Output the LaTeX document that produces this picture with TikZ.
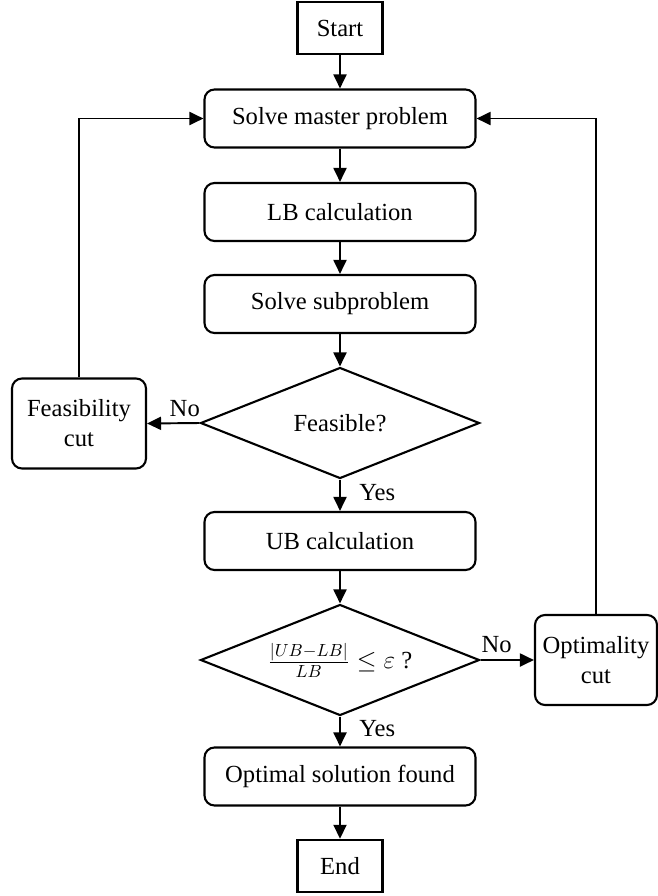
\documentclass[tikz,border=0pt]{standalone}
\usepackage{amsmath}
\usepackage{fontspec}
\setmainfont{Liberation Serif}
\usepackage{tikz}
\usetikzlibrary{shapes.geometric}
\usetikzlibrary{arrows.meta}

\tikzset{
	proc/.style={draw, rounded corners=0.2cm, line width=1.2pt, minimum width=5.42cm, minimum height=1.16cm, align=center},
	term/.style={draw, line width=1.4pt, minimum width=1.7cm, minimum height=1.04cm},
	side/.style={draw, rounded corners=0.2cm, line width=1.2pt, align=center, minimum height=1.8cm},
	dec/.style={draw, diamond, aspect=2.6, line width=1.2pt, inner sep=0pt, minimum width=5.58cm, minimum height=2.22cm},
	flow/.style={-{Triangle[length=0.28cm,width=0.26cm]}, line width=1.1pt},
}

\begin{document}
\begin{tikzpicture}[font=\fontsize{14}{17}\selectfont]
		\useasboundingbox (0,0) rectangle (13.16,-17.92);
		
		\node[term](S) at (6.8,-0.56) {Start};
		\node[proc](MP) at (6.8,-2.37) {Solve master problem};
		\node[proc](LB) at (6.8,-4.24) {LB calculation};
		\node[proc](SP) at (6.8,-6.08) {Solve subproblem};
		\node[dec](F) at (6.8,-8.46) {Feasible?};
		\node[proc](UB) at (6.8,-10.82) {UB calculation};
		\node[dec](C) at (6.8,-13.2) {$\frac{|UB-LB|}{LB}\leq\varepsilon$ ?};
		\node[proc](OS) at (6.8,-15.53) {Optimal solution found};
		\node[term](E) at (6.8,-17.32) {End};
		\node[side,minimum width=2.68cm](FC) at (1.58,-8.47) {Feasibility\\cut};
		\node[side,minimum width=2.44cm](OC) at (11.92,-13.2) {Optimality\\cut};
		
		\draw[flow] (S)--(MP);
		\draw[flow] (MP)--(LB);
		\draw[flow] (LB)--(SP);
		\draw[flow] (SP)--(F);
		\draw[flow] (F)--(UB) node[pos=0.4,right,xshift=0.25cm]{Yes};
		\draw[flow] (UB)--(C);
		\draw[flow] (C)--(OS) node[pos=0.4,right,xshift=0.25cm]{Yes};
		\draw[flow] (OS)--(E);
		
		\draw[flow] (F.west)--(FC.east) node[pos=0.28,above]{No};
		\draw[flow] (C.east)--(OC.west) node[pos=0.3,above]{No};
		\draw[flow] (FC.north) |- (MP.west);
		\draw[flow] (OC.north) |- (MP.east);
	\end{tikzpicture}
\end{document}
